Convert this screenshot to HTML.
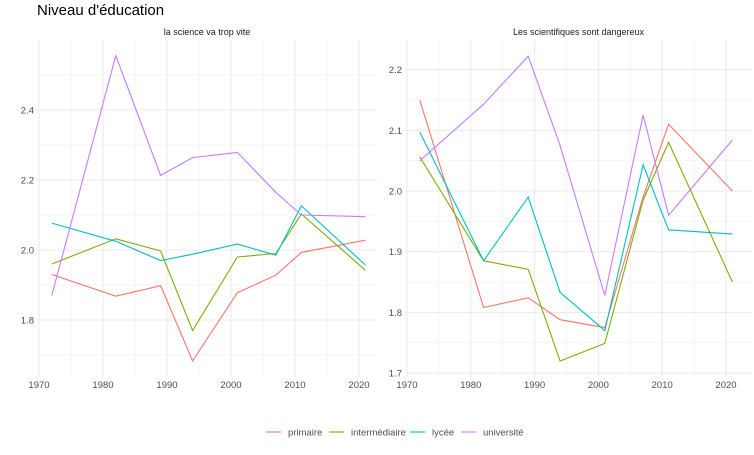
<!DOCTYPE html>
<html><head><meta charset="utf-8"><style>
body{margin:0;background:#fff;font-family:"Liberation Sans",sans-serif}
svg text{font-family:"Liberation Sans",sans-serif}
</style></head><body>
<svg id="chart" width="754" height="450" xmlns="http://www.w3.org/2000/svg">
<text x="37" y="15" font-size="15" fill="#000">Niveau d'éducation</text>
<g id="panels"></g>
<g id="legend"></g>
</svg>
<script>
const years = [1972, 1982, 1989, 1994, 2001, 2007, 2011, 2021];
const seriesNames = ["primaire", "intermédiaire", "lycée", "université"];
const colors = ["#F8766D", "#7CAE00", "#00BFC4", "#C77CFF"];
const xTicks = [1970, 1980, 1990, 2000, 2010, 2020];
const leftTitle = "la science va trop vite";
const leftPrimaire = [1.93, 1.868, 1.898, 1.683, 1.878, 1.928, 1.993, 2.028];
const leftInter = [1.96, 2.032, 1.997, 1.77, 1.98, 1.99, 2.103, 1.942];
const leftLycee = [2.077, 2.025, 1.97, 1.988, 2.017, 1.985, 2.126, 1.957];
const leftUniv = [1.87, 2.555, 2.213, 2.264, 2.279, 2.165, 2.1, 2.095];
const leftYTicks = [1.8, 2.0, 2.2, 2.4];
const rightTitle = "Les scientifiques sont dangereux";
const rightPrimaire = [2.15, 1.808, 1.824, 1.788, 1.775, 1.99, 2.11, 2.0];
const rightInter = [2.056, 1.885, 1.871, 1.72, 1.749, 1.985, 2.08, 1.85];
const rightLycee = [2.097, 1.885, 1.99, 1.833, 1.77, 2.043, 1.936, 1.929];
const rightUniv = [2.05, 2.143, 2.222, 2.075, 1.828, 2.125, 1.96, 2.084];
const rightYTicks = [1.7, 1.8, 1.9, 2.0, 2.1, 2.2];

const NS = "http://www.w3.org/2000/svg";
function mk(tag, attrs, parent){const e=document.createElementNS(NS,tag);for(const k in attrs)e.setAttribute(k,attrs[k]);parent.appendChild(e);return e;}
const root=document.getElementById('panels');

function panel(cfg){
  const g=mk('g',{},root);
  
  
  const x=v=>cfg.x0+(v-1970)*cfg.xs;
  const y=v=>cfg.y0-(v-cfg.yref)*cfg.ys;
  // minor grid
  for(let v=1965; v<=2025; v+=10){const px=x(v); if(px<cfg.left||px>cfg.right)continue;
    const l=mk('line',{x1:px,x2:px,y1:cfg.top,y2:cfg.bottom,stroke:'#ebebeb','stroke-width':0.5},g);
    }
  const st=cfg.yTicks[1]-cfg.yTicks[0];
  for(let i=-1;i<cfg.yTicks.length;i++){const v=cfg.yTicks[0]+st*(i+0.5);const py=y(v);if(py<cfg.top||py>cfg.bottom)continue;
    const l=mk('line',{x1:cfg.left,x2:cfg.right,y1:py,y2:py,stroke:'#ebebeb','stroke-width':0.5},g);
    }
  xTicks.forEach(v=>{const px=x(v);
    const l=mk('line',{x1:px,x2:px,y1:cfg.top,y2:cfg.bottom,stroke:'#ebebeb','stroke-width':1.1},g);
    
    const t=mk('text',{x:px,y:388,'font-size':9.5,fill:'#4d4d4d','text-anchor':'middle'},g);t.textContent=v;
    });
  cfg.yTicks.forEach(v=>{const py=y(v);
    const l=mk('line',{x1:cfg.left,x2:cfg.right,y1:py,y2:py,stroke:'#ebebeb','stroke-width':1.1},g);
    
    const t=mk('text',{x:cfg.left-3,y:py+3.5,'font-size':9.5,fill:'#4d4d4d','text-anchor':'end'},g);t.textContent=v.toFixed(1);
    });
  const tt=mk('text',{x:(cfg.left+cfg.right)/2,y:35,'font-size':9,fill:'#1a1a1a','text-anchor':'middle'},g);tt.textContent=cfg.title;
  
  cfg.series.forEach((s,i)=>{
    const d=years.map((yr,j)=>(j?'L':'M')+x(yr).toFixed(1)+','+y(s[j]).toFixed(1)).join(' ');
    const p=mk('path',{d:d,fill:'none',stroke:colors[i],'stroke-width':1.1},g);
    
  });
}
panel({name:'panel-left',title:leftTitle,left:37,right:377,top:40,bottom:377,x0:39,xs:6.4,y0:250,yref:2.0,ys:350,yTicks:leftYTicks,
  series:[leftPrimaire,leftInter,leftLycee,leftUniv]});
panel({name:'panel-right',title:rightTitle,left:405,right:752,top:40,bottom:377,x0:407,xs:6.38,y0:191,yref:2.0,ys:607,yTicks:rightYTicks,
  series:[rightPrimaire,rightInter,rightLycee,rightUniv]});

const lg=document.getElementById('legend');
const lx=[266,329,410,461];
seriesNames.forEach((n,i)=>{
  const g=mk('g',{},lg);
  
  
  mk('line',{x1:lx[i],x2:lx[i]+15,y1:432,y2:432,stroke:colors[i],'stroke-width':1.1},g);
  const t=mk('text',{x:lx[i]+22,y:435.5,'font-size':9.5,fill:'#4d4d4d'},g);t.textContent=n;
});
</script>
</body></html>
